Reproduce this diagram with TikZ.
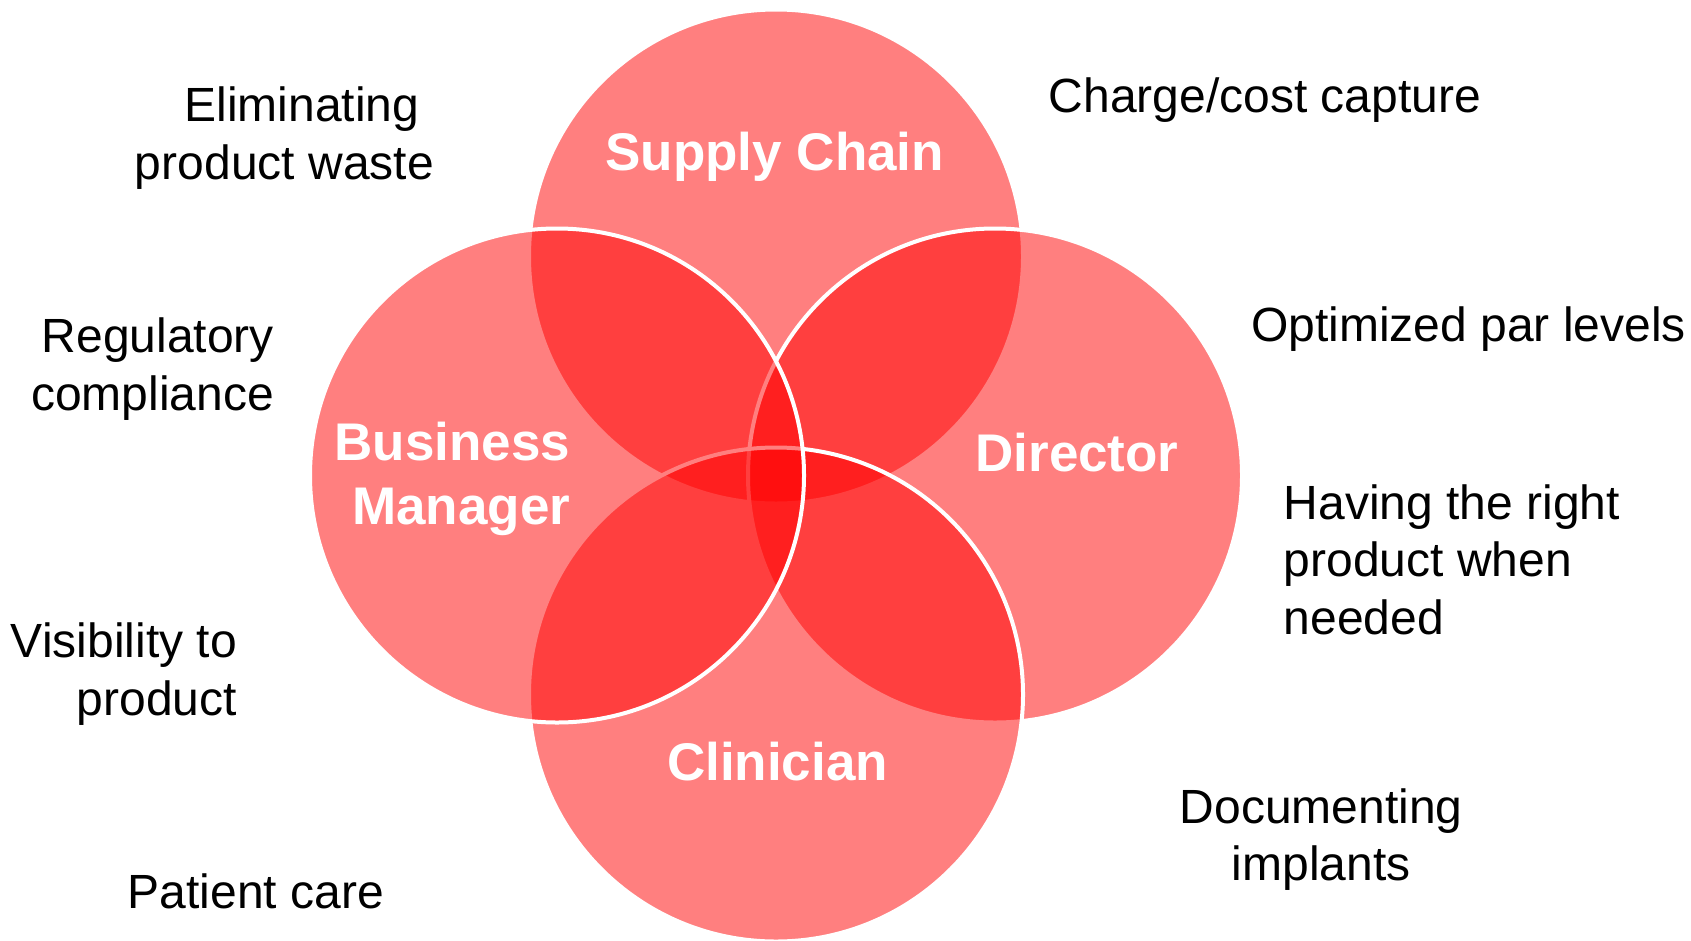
\documentclass[tikz,border=0pt]{standalone}
\usepackage{fontspec}
\setmainfont{Liberation Sans}
\begin{document}
\begin{tikzpicture}[x=1pt,y=-1pt,
  venn/.style={fill=red, fill opacity=0.5, draw=white, line width=4pt},
  note/.style={inner sep=0pt, font=\fontsize{48}{57.3}\selectfont, text=black},
  biglabel/.style={inner sep=0pt, font=\fontsize{53}{63.3}\selectfont\bfseries, text=white}]
\useasboundingbox (0,0) rectangle (1691,940);
\fill[white] (0,0) rectangle (1691,940);
% circles, drawn in order: Supply Chain, Director, Clinician, Business Manager
\path[venn] (776,256.5) circle[radius=247pt];
\path[venn] (995,475.5) circle[radius=247pt];
\path[venn] (776,694.5) circle[radius=247pt];
\path[venn] (557,475.5) circle[radius=247pt];
% circle labels (base anchor = baseline of the last line)
\node[biglabel, anchor=base] (sc) at (774.8,170.7) {Supply Chain};
\node[biglabel, anchor=base east, align=right] (bm) at (570.5,524) {Business\\Manager};
\node[biglabel, anchor=base] (dir) at (1077,471.7) {Director};
\node[biglabel, anchor=base] (cli) at (777.5,780.7) {Clinician};
% side notes
\node[note, anchor=base east, align=right] (elim) at (434,179) {Eliminating\kern.3em\\product waste};
\node[note, anchor=base east, align=right] (reg) at (274,410) {Regulatory\\compliance};
\node[note, anchor=base east, align=right] (vis) at (237,715) {Visibility to\\product};
\node[note, anchor=base west] (pat) at (127.5,908.3) {Patient care};
\node[note, anchor=base west] (chg) at (1048.5,112.7) {Charge/cost capture};
\node[note, anchor=base west] (opt) at (1251,341.7) {Optimized par levels};
\node[note, anchor=base west, align=left] (hav) at (1283.5,634) {Having the right\\product when\\needed};
\node[note, anchor=base, align=center] (doc) at (1321.3,880.7) {Documenting\\implants};
\end{tikzpicture}
\end{document}
